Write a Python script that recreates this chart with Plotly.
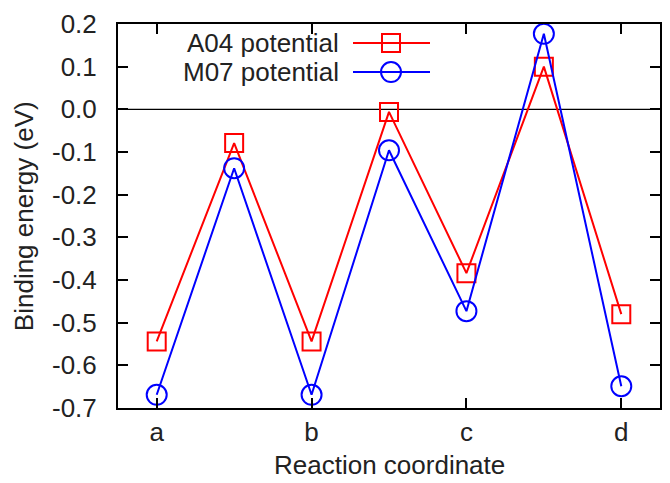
import plotly.graph_objects as go

x_pos = [0, 0.5, 1, 1.5, 2, 2.5, 3]
tick_vals = [0, 1, 2, 3]
tick_text = ["a", "b", "c", "d"]
a04 = [-0.544, -0.079, -0.544, -0.006, -0.384, 0.100, -0.480]
m07 = [-0.669, -0.138, -0.669, -0.096, -0.473, 0.177, -0.649]
y_ticks = [0.2, 0.1, 0.0, -0.1, -0.2, -0.3, -0.4, -0.5, -0.6, -0.7]

FONT = "Liberation Sans, Arial, sans-serif"
FS = 26
TXT = "#222"
RED = "#ff0000"
BLUE = "#0000ff"

# page has an 8px body margin; work in figure pixel coordinates
OFF = 8
W, H = 670 - OFF, 483 - OFF
L, R, T, B = 118 - OFF, 660 - OFF, 24 - OFF, 407.7 - OFF

fig = go.Figure()
fig.add_trace(go.Scatter(x=x_pos, y=a04, mode="lines+markers", name="A04 potential",
                         line=dict(color=RED, width=2),
                         marker=dict(symbol="square-open", size=18, color=RED, line=dict(width=2))))
fig.add_trace(go.Scatter(x=x_pos, y=m07, mode="lines+markers", name="M07 potential",
                         line=dict(color=BLUE, width=2),
                         marker=dict(symbol="circle-open", size=20, color=BLUE, line=dict(width=2))))

fig.add_hline(y=0, line=dict(color="black", width=1.3), layer="below")

axis_common = dict(showline=True, linecolor="black", linewidth=2, mirror="ticks",
                   ticks="inside", ticklen=10, tickwidth=1.5, tickcolor="black",
                   showgrid=False, zeroline=False, automargin=False,
                   tickfont=dict(family=FONT, size=FS, color=TXT))

fig.update_xaxes(range=[-0.25, 3.25], tickvals=tick_vals, ticktext=tick_text,
                 ticklabelstandoff=0, **axis_common)
fig.update_yaxes(range=[-0.7, 0.2], tickvals=y_ticks,
                 ticktext=[f"{v:.1f}" for v in y_ticks],
                 ticklabelstandoff=14, **axis_common)

def px_x(p):
    return (p - OFF - L) / (R - L)

def px_y(p):
    return 1 - (p - OFF - T) / (B - T)

# axis titles (positions in window pixels)
fig.add_annotation(xref="paper", yref="paper", x=px_x(389), y=px_y(465),
                   text="Reaction coordinate", showarrow=False, xanchor="center", yanchor="middle",
                   font=dict(family=FONT, size=FS, color=TXT))
fig.add_annotation(xref="paper", yref="paper", x=px_x(24), y=px_y(216),
                   text="Binding energy (eV)", showarrow=False, textangle=-90,
                   xanchor="center", yanchor="middle",
                   font=dict(family=FONT, size=FS, color=TXT))

# gnuplot-style legend: text on the left, sample on the right
legend_items = [("A04 potential", RED, "square"), ("M07 potential", BLUE, "circle")]
for i, (label, col, sym) in enumerate(legend_items):
    ypx = 43 + i * 29
    yp = px_y(ypx)
    fig.add_annotation(xref="paper", yref="paper", x=px_x(341), y=yp,
                       text=label, showarrow=False, xanchor="right", yanchor="middle",
                       font=dict(family=FONT, size=FS, color=TXT))
    fig.add_shape(type="line", xref="paper", yref="paper", x0=px_x(353), x1=px_x(430), y0=yp, y1=yp,
                  line=dict(color=col, width=2))
    h = 9 if sym == "square" else 10
    fig.add_shape(type="rect" if sym == "square" else "circle", xref="paper", yref="paper",
                  xsizemode="pixel", ysizemode="pixel", xanchor=px_x(391), yanchor=yp,
                  x0=-h, x1=h, y0=-h, y1=h,
                  line=dict(color=col, width=2), fillcolor="rgba(0,0,0,0)")

fig.update_layout(width=W, height=H, showlegend=False,
                  margin=dict(l=L, r=W - R, t=T, b=H - B, autoexpand=False),
                  paper_bgcolor="white", plot_bgcolor="white",
                  font=dict(family=FONT, size=FS, color=TXT))

fig.write_html("out.html")
